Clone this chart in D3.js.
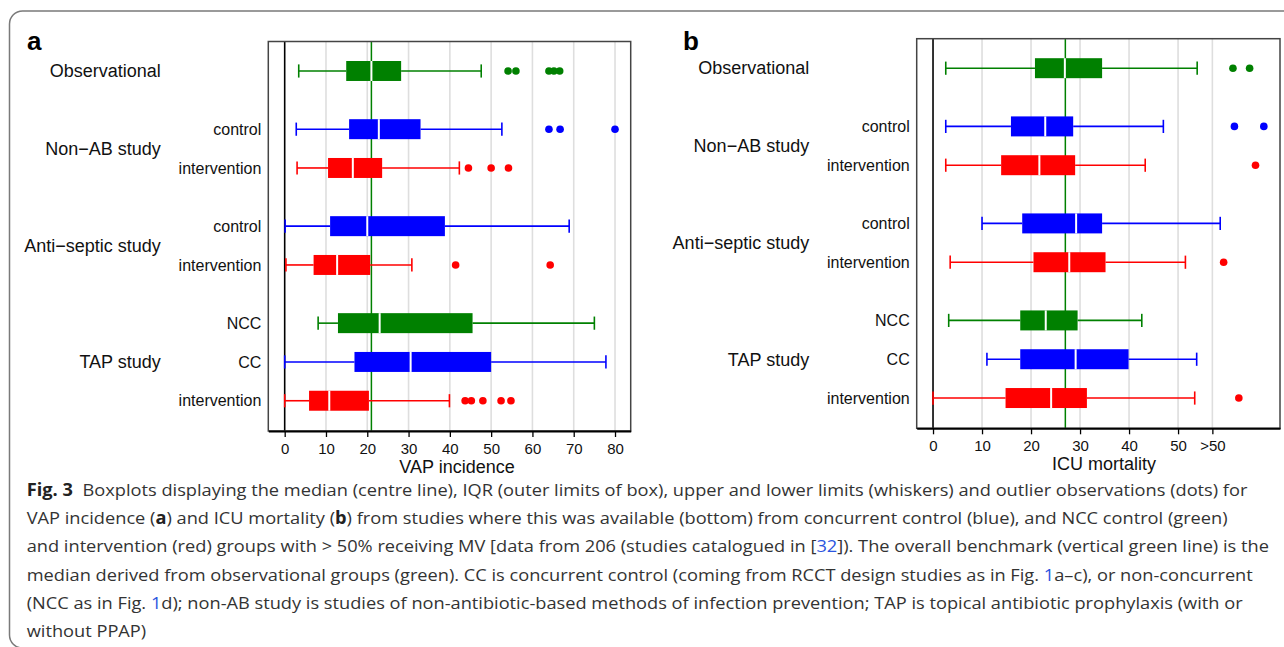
<!DOCTYPE html>
<html>
<head>
<meta charset="utf-8">
<script src="https://cdn.jsdelivr.net/npm/d3@7"></script>
<style>
  body { margin: 0; background: #fff; }
  svg text { font-family: "Liberation Sans", Arial, Helvetica, sans-serif; }
  .caption text { font-family: "Open Sans", "Noto Sans", sans-serif; }
</style>
</head>
<body>
<svg id="fig" width="1284" height="647"></svg>
<script>
// rows, top to bottom (same layout in both panels)
const rowLabels = ["", "control", "intervention", "control", "intervention", "NCC", "CC", "intervention"];
const rowPos = [0, 3, 5, 8, 10, 13, 15, 17];
const rowColors = ["#008000", "#0000ff", "#ff0000", "#0000ff", "#ff0000", "#008000", "#0000ff", "#ff0000"];
const groupLabels = ["Observational", "Non\u2212AB study", "Anti\u2212septic study", "TAP study"];
const groupPos = [0, 4, 9, 15];

// panel a: VAP incidence
const vapLow = [3.4, 2.8, 3.0, 0.1, 0.3, 8.1, 0.0, 0.0];
const vapQ1 = [14.9, 15.6, 10.5, 11.0, 7.0, 12.9, 16.9, 5.9];
const vapMed = [21.0, 22.8, 16.5, 20.0, 12.7, 23.0, 30.5, 10.8];
const vapQ3 = [28.2, 32.9, 23.6, 38.8, 20.7, 45.5, 50.0, 20.4];
const vapHigh = [47.6, 52.6, 42.3, 68.9, 30.8, 75.0, 77.8, 39.9];
const vapOut = [[54.1, 56.0, 64.0, 65.2, 66.6], [64.0, 66.7, 80.0], [44.5, 50.0, 54.2], [], [41.4, 64.3], [], [], [43.7, 45.2, 48.0, 52.4, 54.8]];
const vapTicks = [0, 10, 20, 30, 40, 50, 60, 70, 80];
const vapTickLabels = ["0", "10", "20", "30", "40", "50", "60", "70", "80"];
const vapBenchmark = 21;

// panel b: ICU mortality (values past 50 are drawn beyond the ">50" tick)
const icuLow = [2.6, 2.6, 2.6, 10.0, 3.5, 3.2, 11.0, 0.0];
const icuQ1 = [20.8, 15.9, 13.9, 18.2, 20.5, 17.8, 17.8, 14.8];
const icuMed = [26.9, 22.9, 21.7, 29.2, 27.8, 23.0, 29.1, 24.1];
const icuQ3 = [34.5, 28.6, 29.0, 34.5, 35.2, 29.5, 39.9, 31.4];
const icuHigh = [53.9, 47.0, 43.3, 58.6, 51.5, 42.6, 53.8, 53.4];
const icuOut = [[61.2, 64.6], [61.5, 67.5], [65.8], [], [59.3], [], [], [62.4]];
const icuTicks = [0, 10, 20, 30, 40, 50, 57];
const icuTickLabels = ["0", "10", "20", "30", "40", "50", ">50"];
const icuBenchmark = 27;

const captionLines = [
  [{t: "Fig. 3", b: true}, {t: "Boxplots displaying the median (centre line), IQR (outer limits of box), upper and lower limits (whiskers) and outlier observations (dots) for", dx: 9}],
  [{t: "VAP incidence ("}, {t: "a", b: true}, {t: ") and ICU mortality ("}, {t: "b", b: true}, {t: ") from studies where this was available (bottom) from concurrent control (blue), and NCC control (green)"}],
  [{t: "and intervention (red) groups with > 50% receiving MV [data from 206 (studies catalogued in ["}, {t: "32", link: true}, {t: "]). The overall benchmark (vertical green line) is the"}],
  [{t: "median derived from observational groups (green). CC is concurrent control (coming from RCCT design studies as in Fig. "}, {t: "1", link: true}, {t: "a\u2013c), or non-concurrent"}],
  [{t: "(NCC as in Fig. "}, {t: "1", link: true}, {t: "d); non-AB study is studies of non-antibiotic-based methods of infection prevention; TAP is topical antibiotic prophylaxis (with or"}],
  [{t: "without PPAP)"}]
];

const svg = d3.select("#fig");

// outer figure frame
svg.append("rect")
  .attr("x", 9.5).attr("y", 11)
  .attr("width", 1300).attr("height", 637)
  .attr("rx", 13)
  .attr("fill", "none")
  .attr("stroke", "#7a7a7a")
  .attr("stroke-width", 1.5);

function drawPanel(cfg) {
  const x = d3.scaleLinear().domain(cfg.xDomain).range([cfg.left, cfg.right]);
  const y = d3.scaleLinear().domain([-1.52, 18.56]).range([cfg.top, cfg.bottom]);
  const g = svg.append("g");

  // grid lines
  g.selectAll("line.grid")
    .data(cfg.ticks.filter(t => t !== 0))
    .join("line")
    .attr("class", "grid")
    .attr("x1", d => x(d)).attr("x2", d => x(d))
    .attr("y1", cfg.top).attr("y2", cfg.bottom)
    .attr("stroke", "#dedede")
    .attr("stroke-width", 1.6);

  // benchmark and zero line
  g.append("line")
    .attr("x1", x(cfg.benchmark)).attr("x2", x(cfg.benchmark))
    .attr("y1", cfg.top).attr("y2", cfg.bottom)
    .attr("stroke", "#008000").attr("stroke-width", 1.5);
  g.append("line")
    .attr("x1", x(0)).attr("x2", x(0))
    .attr("y1", cfg.top).attr("y2", cfg.bottom)
    .attr("stroke", "#000").attr("stroke-width", 1.6);

  const rows = rowPos.map((p, i) => ({
    p, i, color: rowColors[i],
    lo: cfg.low[i], q1: cfg.q1[i], med: cfg.med[i], q3: cfg.q3[i], hi: cfg.high[i], out: cfg.out[i]
  }));

  const rg = g.selectAll("g.row").data(rows).join("g").attr("class", "row");

  // whiskers
  rg.append("line")
    .attr("x1", d => x(d.lo)).attr("x2", d => x(d.q1))
    .attr("y1", d => y(d.p)).attr("y2", d => y(d.p))
    .attr("stroke", d => d.color).attr("stroke-width", 1.6);
  rg.append("line")
    .attr("x1", d => x(d.q3)).attr("x2", d => x(d.hi))
    .attr("y1", d => y(d.p)).attr("y2", d => y(d.p))
    .attr("stroke", d => d.color).attr("stroke-width", 1.6);
  // caps
  ["lo", "hi"].forEach(k => {
    rg.append("line")
      .attr("x1", d => x(d[k])).attr("x2", d => x(d[k]))
      .attr("y1", d => y(d.p - 0.34)).attr("y2", d => y(d.p + 0.34))
      .attr("stroke", d => d.color).attr("stroke-width", 1.6);
  });
  // boxes
  rg.append("rect")
    .attr("x", d => x(d.q1))
    .attr("width", d => x(d.q3) - x(d.q1))
    .attr("y", d => y(d.p - 0.515))
    .attr("height", d => y(d.p + 0.515) - y(d.p - 0.515))
    .attr("fill", d => d.color);
  // medians
  rg.append("line")
    .attr("x1", d => x(d.med)).attr("x2", d => x(d.med))
    .attr("y1", d => y(d.p - 0.515)).attr("y2", d => y(d.p + 0.515))
    .attr("stroke", "#fff").attr("stroke-width", 2);
  // outliers
  rg.selectAll("circle")
    .data(d => d.out.map(v => ({v, p: d.p, color: d.color})))
    .join("circle")
    .attr("cx", d => x(d.v)).attr("cy", d => y(d.p))
    .attr("r", 3.8)
    .attr("fill", d => d.color);

  // plot frame
  g.append("rect")
    .attr("x", cfg.left).attr("y", cfg.top)
    .attr("width", cfg.right - cfg.left).attr("height", cfg.bottom - cfg.top)
    .attr("fill", "none").attr("stroke", "#444").attr("stroke-width", 1.5);

  // bottom axis
  const axis = d3.axisBottom(x)
    .tickValues(cfg.ticks)
    .tickFormat((d, i) => cfg.tickLabels[i])
    .tickSize(6).tickSizeOuter(0).tickPadding(6.5);
  const ax = g.append("g").attr("transform", `translate(0,${cfg.bottom})`).call(axis);
  ax.select(".domain").attr("stroke", "#000").attr("stroke-width", 2);
  ax.selectAll(".tick line").attr("stroke", "#000").attr("stroke-width", 1.3);
  ax.selectAll(".tick text")
    .attr("fill", "#111")
    .style("font-family", "'Liberation Sans', Arial, sans-serif")
    .style("font-size", "15px");

  g.append("text")
    .attr("x", cfg.titleX).attr("y", cfg.titleY)
    .attr("text-anchor", "middle")
    .attr("font-size", 18).attr("fill", "#111")
    .text(cfg.title);

  // row labels
  g.selectAll("text.sub")
    .data(rows.filter(d => rowLabels[d.i] !== ""))
    .join("text")
    .attr("class", "sub")
    .attr("x", cfg.left - 7).attr("y", d => y(d.p))
    .attr("dy", "0.35em")
    .attr("text-anchor", "end")
    .attr("font-size", 16).attr("fill", "#111")
    .text(d => rowLabels[d.i]);
  g.selectAll("text.grp")
    .data(groupLabels)
    .join("text")
    .attr("class", "grp")
    .attr("x", cfg.left - 107.5).attr("y", (d, i) => y(groupPos[i]))
    .attr("dy", "0.35em")
    .attr("text-anchor", "end")
    .attr("font-size", 18).attr("fill", "#111")
    .text(d => d);

  g.append("text")
    .attr("x", cfg.letterX).attr("y", 50)
    .attr("font-size", 26).attr("font-weight", "bold")
    .text(cfg.letter);
}

drawPanel({
  letter: "a", letterX: 27,
  left: 268.3, right: 630.7, top: 41.5, bottom: 431,
  xDomain: [-3.97, 83.8],
  low: vapLow, q1: vapQ1, med: vapMed, q3: vapQ3, high: vapHigh, out: vapOut,
  ticks: vapTicks, tickLabels: vapTickLabels, benchmark: vapBenchmark,
  title: "VAP incidence", titleX: 457, titleY: 473
});

drawPanel({
  letter: "b", letterX: 683,
  left: 916.7, right: 1280, top: 38.7, bottom: 428.3,
  xDomain: [-3.33, 70.8],
  low: icuLow, q1: icuQ1, med: icuMed, q3: icuQ3, high: icuHigh, out: icuOut,
  ticks: icuTicks, tickLabels: icuTickLabels, benchmark: icuBenchmark,
  title: "ICU mortality", titleX: 1104, titleY: 470
});

// caption
const cap = svg.append("g").attr("class", "caption");
const capTexts = cap.selectAll("text")
  .data(captionLines)
  .join("text")
  .attr("x", 0)
  .attr("y", (d, i) => 496 + i * 28.2)
  .attr("font-size", 17)
  .attr("fill", "#333");
capTexts.each(function (parts) {
  const t = d3.select(this);
  parts.forEach(p => {
    const s = t.append("tspan").text(p.t);
    if (p.b) s.attr("font-weight", "bold").attr("fill", "#222");
    if (p.link) s.attr("fill", "#2b55e0");
    if (p.dx) s.attr("dx", p.dx);
  });
});
const longest = capTexts.nodes()[2].getComputedTextLength();
const squeeze = (1270 - 26.7) / longest;
cap.attr("transform", `translate(26.7,0) scale(${squeeze},1)`);
</script>
</body>
</html>
